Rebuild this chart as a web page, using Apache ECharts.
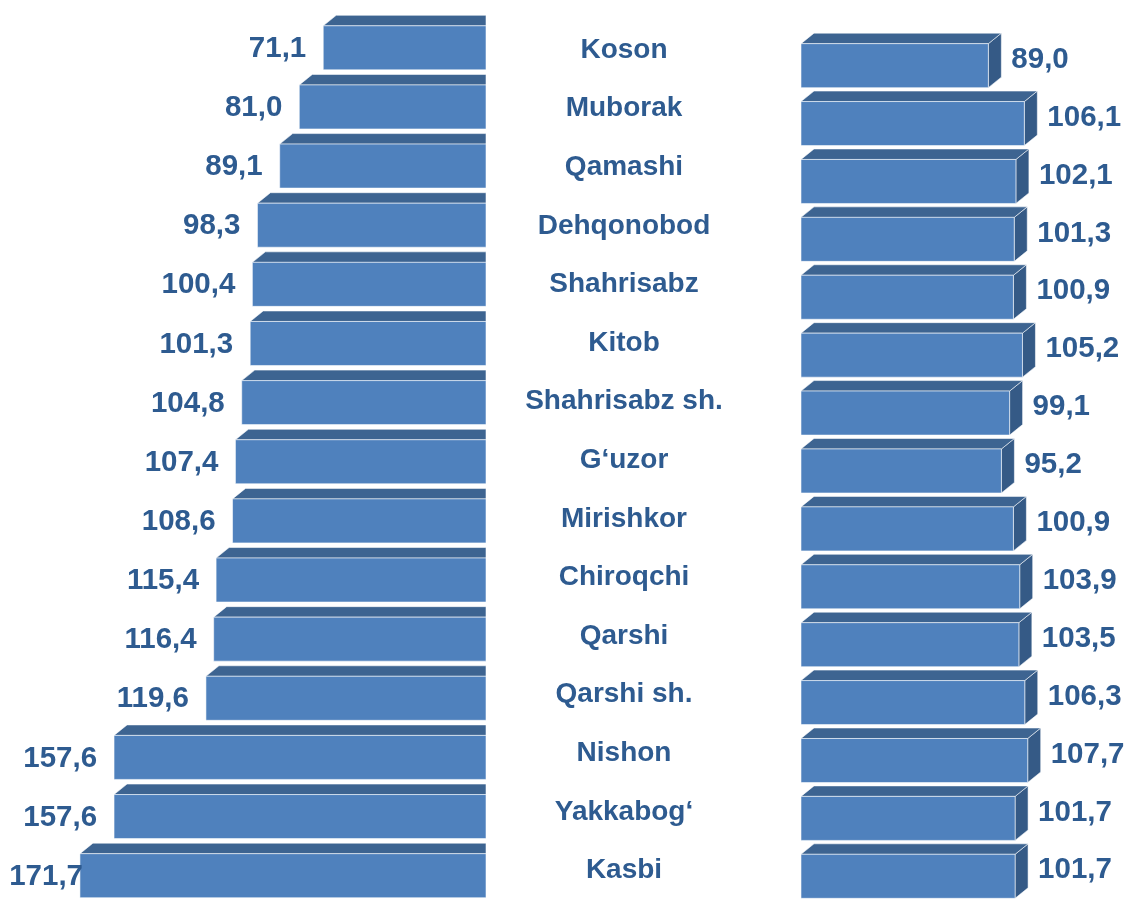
<!DOCTYPE html>
<html>
<head>
<meta charset="utf-8">
<script src="https://cdn.jsdelivr.net/npm/echarts@6/dist/echarts.min.js"></script>
<style>
  html, body { margin: 0; padding: 0; background: #ffffff; }
  #chart { width: 1124px; height: 900px; }
</style>
</head>
<body>
<div id="chart"></div>
<script>
// Districts, top to bottom
const districts = ['Koson', 'Muborak', 'Qamashi', 'Dehqonobod', 'Shahrisabz', 'Kitob',
  'Shahrisabz sh.', 'G‘uzor', 'Mirishkor', 'Chiroqchi', 'Qarshi', 'Qarshi sh.',
  'Nishon', 'Yakkabog‘', 'Kasbi'];

// Left-hand panel values (bars grow to the left)
const leftValues = [71.1, 81.0, 89.1, 98.3, 100.4, 101.3, 104.8, 107.4, 108.6,
  115.4, 116.4, 119.6, 157.6, 157.6, 171.7];

// Right-hand panel values (bars grow to the right)
const rightValues = [89.0, 106.1, 102.1, 101.3, 100.9, 105.2, 99.1, 95.2, 100.9,
  103.9, 103.5, 106.3, 107.7, 101.7, 101.7];

// Styling
const FRONT = '#4F81BD';
const TOP = '#3D6491';
const SIDE = '#355A86';
const EDGE = 'rgba(255,255,255,0.55)';
const TEXT = '#2E5B90';
const FAMILY = '"Liberation Sans", Arial, sans-serif';
const VALUE_FONT = 'bold 29.5px ' + FAMILY;
const FRONT_H = 44;     // height of the front face
const DEPTH_X = 13;     // 3D depth offset
const DEPTH_Y = 10.5;
const LEFT_MIN = 3.8;   // left axis start (bars are cut at the panel edge)

const fmt = v => v.toFixed(1).replace('.', ',');

function faces(api, value, index, baseValue, withSide) {
  const p = api.coord([value, index]);
  const b = api.coord([baseValue, index]);
  const cy = p[1];
  const yTop = cy - FRONT_H / 2 + DEPTH_Y / 2;
  const yBot = yTop + FRONT_H;
  const x0 = Math.min(p[0], b[0]);
  const x1 = Math.max(p[0], b[0]);
  const kids = [];
  if (withSide) {
    kids.push({
      type: 'polygon',
      shape: { points: [[x1, yTop], [x1 + DEPTH_X, yTop - DEPTH_Y], [x1 + DEPTH_X, yBot - DEPTH_Y], [x1, yBot]] },
      style: { fill: SIDE, stroke: EDGE, lineWidth: 1 }
    });
    kids.push({
      type: 'polygon',
      shape: { points: [[x0, yTop], [x0 + DEPTH_X, yTop - DEPTH_Y], [x1 + DEPTH_X, yTop - DEPTH_Y], [x1, yTop]] },
      style: { fill: TOP, stroke: EDGE, lineWidth: 1 }
    });
  } else {
    // panel edge cuts the bar on the right: no side face
    kids.push({
      type: 'polygon',
      shape: { points: [[x0, yTop], [x0 + DEPTH_X, yTop - DEPTH_Y], [x1, yTop - DEPTH_Y], [x1, yTop]] },
      style: { fill: TOP, stroke: EDGE, lineWidth: 1 }
    });
  }
  kids.push({
    type: 'rect',
    shape: { x: x0, y: yTop, width: x1 - x0, height: FRONT_H },
    style: { fill: FRONT, stroke: EDGE, lineWidth: 1 }
  });
  return { kids, x0, x1, yTop, yBot };
}

function renderLeft(params, api) {
  const value = api.value(0);
  const index = api.value(1);
  const f = faces(api, value, index, LEFT_MIN, false);
  f.kids.push({
    type: 'text',
    style: {
      text: fmt(value),
      x: Math.max(f.x0 - 17, 83),
      y: (f.yTop + f.yBot) / 2 + 1,
      align: 'right',
      verticalAlign: 'middle',
      font: VALUE_FONT,
      fill: TEXT
    },
    z2: 10
  });
  return { type: 'group', children: f.kids };
}

function renderRight(params, api) {
  const value = api.value(0);
  const index = api.value(1);
  const f = faces(api, value, index, 0, true);
  f.kids.push({
    type: 'text',
    style: {
      text: fmt(value),
      x: f.x1 + DEPTH_X + 10,
      y: (f.yTop + f.yBot) / 2 - 6,
      align: 'left',
      verticalAlign: 'middle',
      font: VALUE_FONT,
      fill: TEXT
    },
    z2: 10
  });
  return { type: 'group', children: f.kids };
}

const chart = echarts.init(document.getElementById('chart'), null, { renderer: 'canvas' });

const hiddenCat = (gridIndex) => ({
  type: 'category', gridIndex, data: districts, inverse: true,
  axisLine: { show: false }, axisTick: { show: false }, axisLabel: { show: false },
  splitLine: { show: false }
});

chart.setOption({
  backgroundColor: '#ffffff',
  animation: false,
  grid: [
    { left: 11.5, width: 474.5, top: 13, height: 890 },
    { left: 801, width: 315.75, top: 31.45, height: 879 },
    { left: 624, width: 1, top: 20.7, height: 879 }
  ],
  xAxis: [
    { type: 'value', gridIndex: 0, inverse: true, min: LEFT_MIN, max: 200, show: false },
    { type: 'value', gridIndex: 1, min: 0, max: 150, show: false },
    { type: 'value', gridIndex: 2, min: 0, max: 1, show: false }
  ],
  yAxis: [
    hiddenCat(0),
    hiddenCat(1),
    {
      type: 'category', gridIndex: 2, data: districts, inverse: true,
      axisLine: { show: false }, axisTick: { show: false }, splitLine: { show: false },
      axisLabel: {
        show: true, align: 'center', margin: 0, interval: 0,
        fontFamily: FAMILY, fontWeight: 'bold', fontSize: 28, color: TEXT
      }
    }
  ],
  series: [
    {
      type: 'custom', xAxisIndex: 0, yAxisIndex: 0,
      renderItem: renderLeft,
      encode: { x: 0, y: 1 },
      data: leftValues.map((v, i) => [v, i])
    },
    {
      type: 'custom', xAxisIndex: 1, yAxisIndex: 1,
      renderItem: renderRight,
      encode: { x: 0, y: 1 },
      data: rightValues.map((v, i) => [v, i])
    }
  ]
});
</script>
</body>
</html>
